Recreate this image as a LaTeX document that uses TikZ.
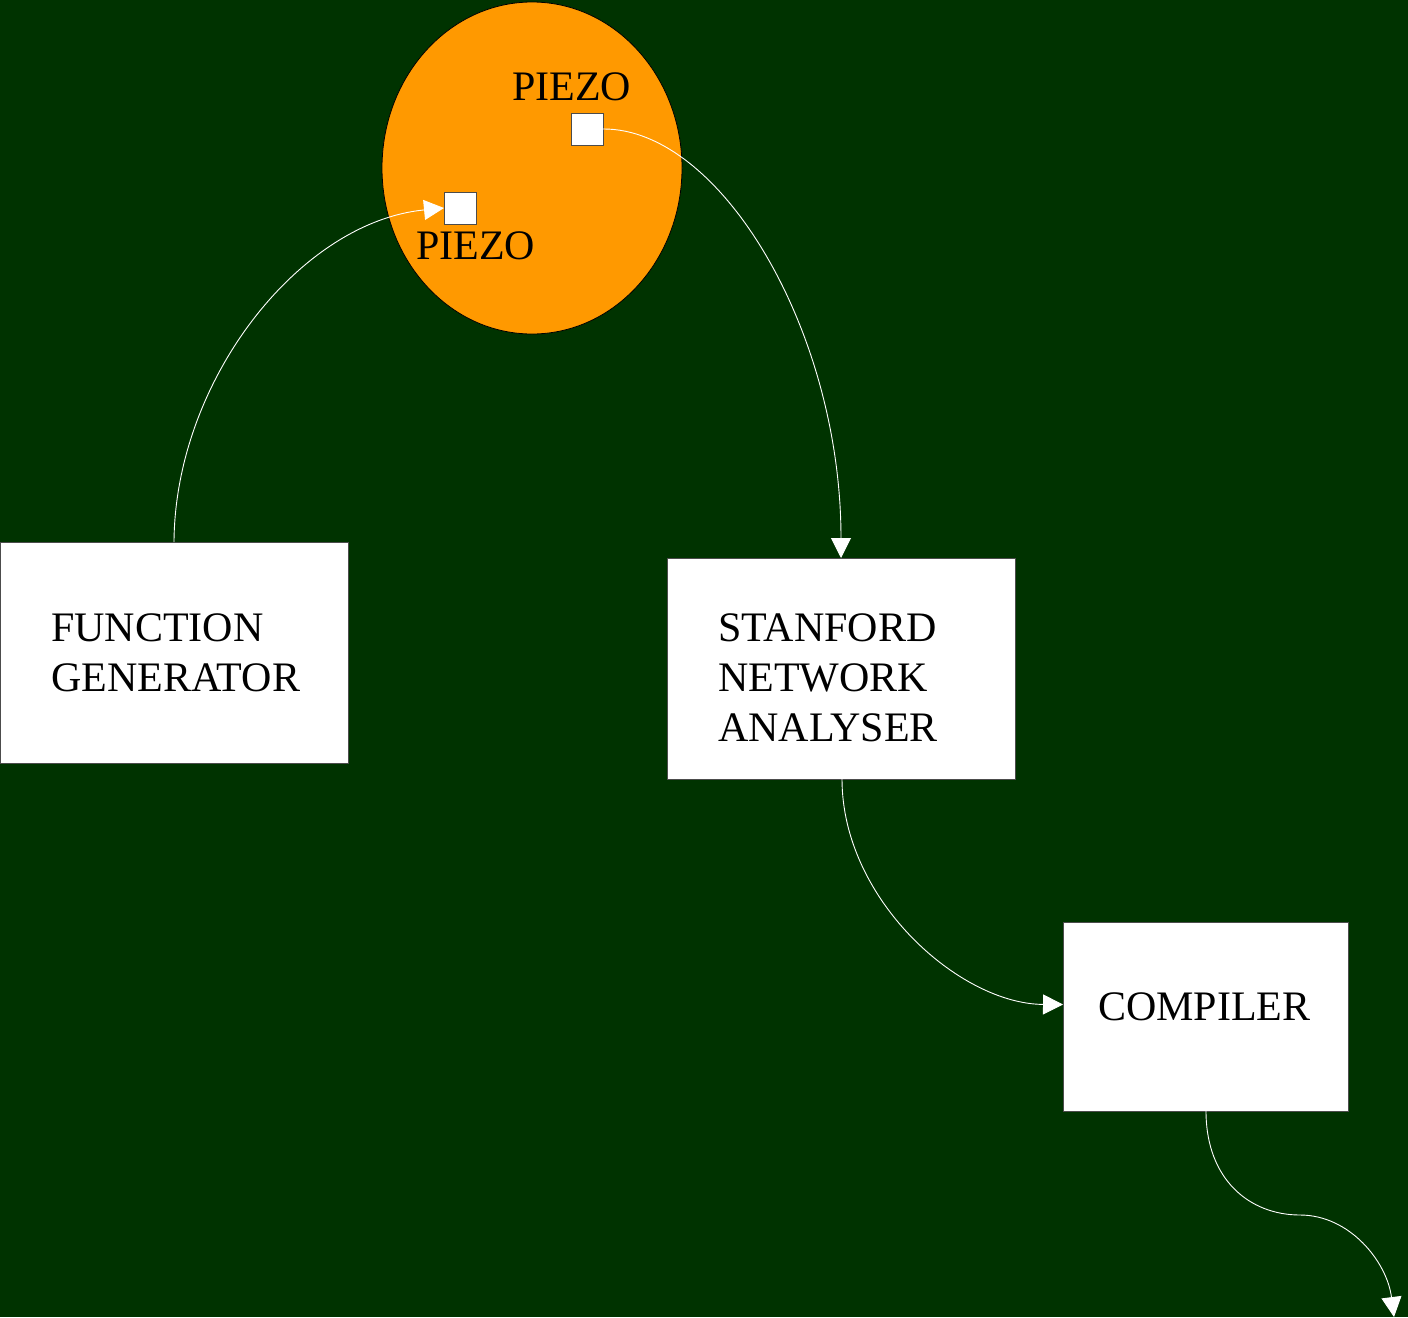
\documentclass[tikz,border=0pt]{standalone}
\usepackage{fontspec}
\setmainfont{Liberation Serif}
\usetikzlibrary{arrows.meta,shapes.geometric}
\definecolor{bggreen}{HTML}{003300}
\definecolor{piezoorange}{HTML}{FF9900}
\begin{document}
\begin{tikzpicture}[x=1pt,y=-1pt,
  box/.style={draw=black!70,line width=0.8pt,fill=white,minimum width=#1,inner sep=0pt,outer sep=0pt},
  pad/.style={draw=black!70,line width=0.8pt,fill=white,minimum width=32pt,minimum height=32pt,inner sep=0pt,outer sep=0pt},
  lbl/.style={anchor=base west,inner sep=0pt,align=left,font=\fontsize{42}{50}\selectfont},
  wire/.style={draw=white,line width=0.9pt},
  tip/.style={-{Triangle[length=20pt,width=20pt,fill=white]}}
]
\fill[bggreen] (0,0) rectangle (1408,1317);
\useasboundingbox (0,0) rectangle (1408,1317);
% piezo disc
\node[ellipse,draw=black,line width=0.8pt,fill=piezoorange,minimum width=300pt,minimum height=332pt,inner sep=0pt] (disc) at (532,168) {};
\node[pad] (sq1) at (587,129) {};
\node[pad] (sq2) at (460,208) {};
\node[lbl] (p1) at (512,100) {PIEZO};
\node[lbl] (p2) at (416,259) {PIEZO};
% boxes
\node[box=348pt,minimum height=221pt] (fg) at (174,652.5) {};
\node[lbl] (fgt) at (51,691) {FUNCTION\\GENERATOR};
\node[box=348pt,minimum height=221pt] (sna) at (841,668.5) {};
\node[lbl] (snat) at (718,741) {STANFORD\\NETWORK\\ANALYSER};
\node[box=285pt,minimum height=189pt] (comp) at (1205.5,1016.5) {};
\node[lbl] (compt) at (1098,1020) {COMPILER};
\coordinate (out) at (1394,1317);
% connectors
\draw[wire,tip] (fg.north) .. controls (175,380) and (300,222) .. (sq2.west);
\draw[wire,tip] (sq1.east) .. controls (720,128) and (841,330) .. (sna.north);
\draw[wire,tip] (842,779) .. controls (842,900) and (960,1004) .. ([yshift=12pt]comp.west);
\draw[wire,tip] (1206,1111) .. controls (1206,1180) and (1250,1215) .. (1300,1215)
   .. controls (1350,1215) and (1387,1262) .. (out);
\end{tikzpicture}
\end{document}
